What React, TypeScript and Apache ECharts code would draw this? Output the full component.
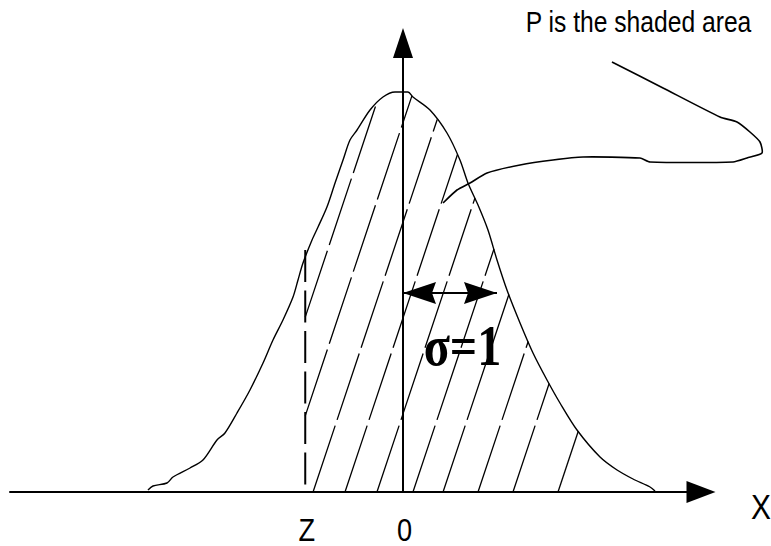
import React, { useEffect, useRef } from "react";
import * as echarts from "echarts";

// Curve of the (hand-drawn) standard normal density, x in σ units, y density
const curveX = [-2.713, -2.66, -2.511, -2.447, -2.266, -2.128, -1.979, -1.894, -1.766, -1.628, -1.489, -1.383, -1.277, -1.17, -1.117, -1.064, -0.968, -0.904, -0.809, -0.723, -0.638, -0.564, -0.489, -0.351, -0.213, -0.085, 0.053, 0.106, 0.287, 0.468, 0.606, 0.691, 0.798, 0.904, 1.0, 1.106, 1.245, 1.383, 1.532, 1.67, 1.851, 2.096, 2.277, 2.447, 2.628, 2.681];
const curveY = [0.002, 0.006, 0.009, 0.015, 0.024, 0.032, 0.052, 0.059, 0.079, 0.102, 0.129, 0.152, 0.172, 0.195, 0.212, 0.229, 0.252, 0.265, 0.285, 0.309, 0.332, 0.352, 0.362, 0.382, 0.395, 0.4, 0.4, 0.395, 0.382, 0.359, 0.332, 0.309, 0.287, 0.262, 0.232, 0.202, 0.169, 0.139, 0.112, 0.089, 0.062, 0.035, 0.022, 0.013, 0.005, 0.001];

// Z marker (dashed vertical line)
const Z_VALUE = -1.04;
const Z_LINE_TOP = 0.242;

// Hatching: virtual baseline intercepts (σ) and slope (σ per unit density)
const hatchIntercepts = [-1.66, -1.31, -0.957, -0.617, -0.277, 0.106, 0.426, 0.798, 1.17, 1.649];
const HATCH_SLOPE = 3.546;

// σ = 1 double arrow
const sigmaSpan = [0, 1];
const SIGMA_ARROW_Y = 0.199;

// tick labels under the axis
const tickValues = [Z_VALUE, 0];
const tickLabels = ["Z", "0"];

// annotation squiggle pointing into the shaded area
const squiggleX = [2.223, 2.766, 3.372, 3.553, 3.691, 3.798, 3.819, 3.66, 3.511, 2.628, 2.521, 1.915, 1.596, 1.245, 0.894, 0.713, 0.574, 0.426];
const squiggleY = [0.43, 0.404, 0.375, 0.37, 0.36, 0.35, 0.339, 0.334, 0.33, 0.33, 0.334, 0.335, 0.332, 0.327, 0.319, 0.309, 0.302, 0.289];

const X_MIN = -4.1809;
const X_MAX = 3.1702;
const Y_MAX = 0.449;

function curveAt(x: number): number {
  const n = curveX.length;
  if (x <= curveX[0] || x >= curveX[n - 1]) return 0;
  for (let i = 0; i < n - 1; i++) {
    if (x >= curveX[i] && x <= curveX[i + 1]) {
      const t = (x - curveX[i]) / (curveX[i + 1] - curveX[i]);
      return curveY[i] + t * (curveY[i + 1] - curveY[i]);
    }
  }
  return 0;
}

const SANS = "'Liberation Sans', Arial, sans-serif";
const SERIF = "'Liberation Serif', 'Times New Roman', serif";

export default function App() {
  const ref = useRef<HTMLDivElement>(null);

  useEffect(() => {
    if (!ref.current) return;
    const chart = echarts.init(ref.current, null, { renderer: "svg" });

    const option: any = {
      animation: false,
      backgroundColor: "#ffffff",
      grid: { left: 10, right: 70, top: 43, bottom: 54, containLabel: false, outerBoundsMode: "none" },
      xAxis: {
        type: "value",
        min: X_MIN,
        max: X_MAX,
        axisLine: {
          show: true,
          onZero: true,
          symbol: ["none", "triangle"],
          symbolSize: [22, 29],
          lineStyle: { color: "#000", width: 2 },
        },
        axisTick: { show: false },
        axisLabel: { show: false },
        splitLine: { show: false },
      },
      yAxis: {
        type: "value",
        min: 0,
        max: Y_MAX,
        axisLine: {
          show: true,
          onZero: true,
          symbol: ["none", "triangle"],
          symbolSize: [20, 30],
          lineStyle: { color: "#000", width: 2 },
        },
        axisTick: { show: false },
        axisLabel: { show: false },
        splitLine: { show: false },
      },
      series: [
        {
          type: "custom",
          name: "hatch",
          coordinateSystem: "cartesian2d",
          encode: { x: 0, y: 1 },
          data: hatchIntercepts.map((b) => [b, 0]),
          renderItem: (params: any, api: any) => {
            const b = api.value(0);
            let x0 = b;
            let y0 = 0;
            if (b < Z_VALUE) {
              y0 = (Z_VALUE - b) / HATCH_SLOPE;
              x0 = Z_VALUE;
            }
            if (y0 >= curveAt(x0)) return { type: "group", children: [] };
            let y = y0;
            while (y < 0.5 && y < curveAt(b + HATCH_SLOPE * y)) y += 0.0005;
            const p1 = api.coord([x0, y0]);
            const p2 = api.coord([b + HATCH_SLOPE * y, y]);
            return {
              type: "line",
              shape: { x1: p1[0], y1: p1[1], x2: p2[0], y2: p2[1] },
              style: { stroke: "#000", lineWidth: 1.3, lineDash: [70, 6] },
            };
          },
          z: 2,
        },
        {
          type: "line",
          name: "density",
          data: curveX.map((x, i) => [x, curveY[i]]),
          symbol: "none",
          smooth: 0.3,
          lineStyle: { color: "#000", width: 1.4 },
          z: 3,
        },
        {
          type: "line",
          name: "z",
          data: [
            [Z_VALUE, Z_LINE_TOP],
            [Z_VALUE, 0],
          ],
          symbol: "none",
          lineStyle: { color: "#000", width: 2, type: [32, 8.5] },
          z: 3,
        },
        {
          type: "custom",
          name: "pointer",
          coordinateSystem: "cartesian2d",
          encode: { x: 0, y: 1 },
          clip: false,
          data: [[squiggleX[0], squiggleY[0]]],
          renderItem: (params: any, api: any) => {
            const pts = squiggleX.map((x, i) => api.coord([x, squiggleY[i]]));
            return {
              type: "polyline",
              shape: { points: pts, smooth: 0.2 },
              style: { stroke: "#000", lineWidth: 1.6, fill: "none" },
            };
          },
          z: 4,
        },
        {
          type: "custom",
          name: "sigma",
          coordinateSystem: "cartesian2d",
          encode: { x: 0, y: 2 },
          data: [[sigmaSpan[0], sigmaSpan[1], SIGMA_ARROW_Y]],
          renderItem: (params: any, api: any) => {
            const a = api.coord([api.value(0), api.value(2)]);
            const c = api.coord([api.value(1), api.value(2)]);
            const L = 33;
            const H = 11;
            return {
              type: "group",
              children: [
                { type: "line", shape: { x1: a[0], y1: a[1], x2: c[0], y2: c[1] }, style: { stroke: "#000", lineWidth: 2 } },
                { type: "polygon", shape: { points: [[a[0], a[1]], [a[0] + L, a[1] - H], [a[0] + L - 4, a[1]], [a[0] + L, a[1] + H]] }, style: { fill: "#000" } },
                { type: "polygon", shape: { points: [[c[0], c[1]], [c[0] - L, c[1] - H], [c[0] - L + 4, c[1]], [c[0] - L, c[1] + H]] }, style: { fill: "#000" } },
              ],
            };
          },
          z: 5,
        },
        {
          type: "custom",
          name: "ticks",
          coordinateSystem: "cartesian2d",
          encode: { x: 0, y: 1 },
          clip: false,
          data: tickValues.map((v, i) => [v, 0, i]),
          renderItem: (params: any, api: any) => {
            const p = api.coord([api.value(0), 0]);
            return {
              type: "text",
              x: p[0] + 1.5,
              y: p[1] + 37.5,
              scaleX: 0.85,
              style: {
                text: tickLabels[api.value(2)],
                fontSize: 32,
                fontFamily: SANS,
                fill: "#000",
                align: "center",
                verticalAlign: "middle",
              },
            };
          },
          z: 5,
        },
      ],
      graphic: [
        {
          type: "text",
          x: 638.5,
          y: 22,
          scaleX: 0.85,
          style: { text: "P is the shaded area", fontSize: 29, fontFamily: SANS, fill: "#000", align: "center", verticalAlign: "middle" },
          z: 10,
        },
        {
          type: "text",
          x: 761,
          y: 506,
          scaleX: 0.83,
          style: { text: "X", fontSize: 36, fontFamily: SANS, fill: "#000", align: "center", verticalAlign: "middle" },
          z: 10,
        },
        {
          type: "text",
          x: 462.5,
          y: 346,
          scaleX: 0.86,
          style: { text: "σ=1", fontSize: 56, fontWeight: "bold", fontFamily: SERIF, fill: "#000", align: "center", verticalAlign: "middle" },
          z: 10,
        },
      ],
    };

    chart.setOption(option);
    return () => chart.dispose();
  }, []);

  return (
    <div
      ref={ref}
      style={{ position: "fixed", left: 0, top: 0, width: 771, height: 546, background: "#fff" }}
    />
  );
}
